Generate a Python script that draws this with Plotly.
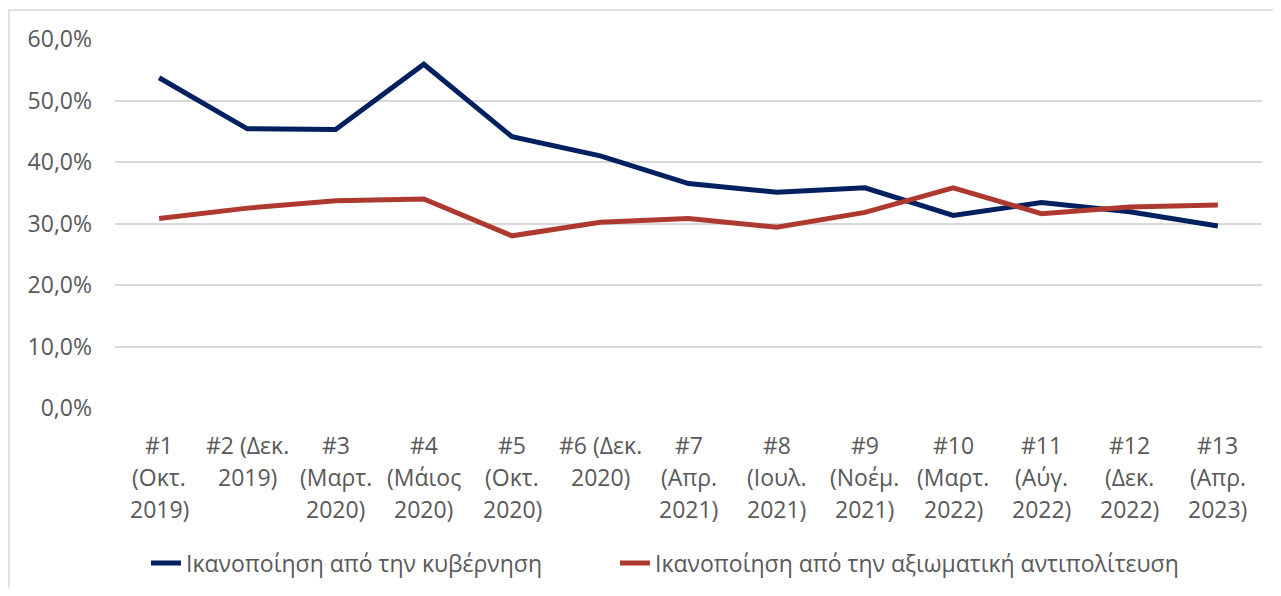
import plotly.graph_objects as go

# Data
label_line1 = ["#1", "#2 (Δεκ.", "#3", "#4", "#5", "#6 (Δεκ.", "#7", "#8", "#9", "#10", "#11", "#12", "#13"]
label_line2 = ["(Οκτ.", "2019)", "(Μαρτ.", "(Μάιος", "(Οκτ.", "2020)", "(Απρ.", "(Ιουλ.", "(Νοέμ.", "(Μαρτ.", "(Αύγ.", "(Δεκ.", "(Απρ."]
label_line3 = ["2019)", "", "2020)", "2020)", "2020)", "", "2021)", "2021)", "2021)", "2022)", "2022)", "2022)", "2023)"]
categories = [" ".join(p for p in (a, b, c) if p) for a, b, c in zip(label_line1, label_line2, label_line3)]

government = [53.7, 45.4, 45.3, 55.9, 44.1, 41.0, 36.5, 35.1, 35.8, 31.3, 33.4, 31.9, 29.6]
opposition = [30.8, 32.5, 33.7, 34.0, 28.0, 30.2, 30.8, 29.4, 31.8, 35.8, 31.6, 32.7, 33.0]
series_names = ["Ικανοποίηση από την κυβέρνηση", "Ικανοποίηση από την αξιωματική αντιπολίτευση"]
y_ticks = [0, 10, 20, 30, 40, 50, 60]

FONT = "Open Sans, Noto Sans, sans-serif"
FS = 23
GREY = "#595959"
NAVY = "#002060"
RED = "#AE3A2F"

fig = go.Figure()
fig.add_trace(go.Scatter(x=categories, y=[v / 100 for v in government], mode="lines",
                         name=series_names[0], line=dict(color=NAVY, width=5), legend="legend"))
fig.add_trace(go.Scatter(x=categories, y=[v / 100 for v in opposition], mode="lines",
                         name=series_names[1], line=dict(color=RED, width=5), legend="legend2"))

# page offset (browser body margin) and geometry in screen pixels
OFF = 8
W, H = 1281 - 2 * OFF, 596 - 2 * OFF
plot_left, plot_right, plot_top, plot_bottom = 115 - OFF, 1262 - OFF, 39 - OFF, 408 - OFF
L, R, T, B = plot_left, W - plot_right, plot_top, H - plot_bottom
pw, ph = plot_right - plot_left, plot_bottom - plot_top

def py_paper(py):
    return (plot_bottom - (py - OFF)) / ph

def px_paper(px):
    return ((px - OFF) - plot_left) / pw

annotations = []
for cat, l1, l2, l3 in zip(categories, label_line1, label_line2, label_line3):
    for txt, py in ((l1, 445), (l2, 477), (l3, 509)):
        if txt:
            annotations.append(dict(x=cat, xref="x", y=py_paper(py), yref="paper",
                                    text=txt, showarrow=False, xanchor="center", yanchor="middle",
                                    font=dict(family=FONT, size=FS, color=GREY)))

legend_common = dict(orientation="h", xanchor="left", yanchor="middle",
                     y=py_paper(563), font=dict(family=FONT, size=FS, color=GREY),
                     bgcolor="rgba(0,0,0,0)")

fig.update_layout(
    width=W, height=H,
    margin=dict(l=L, r=R, t=T, b=B, autoexpand=False),
    paper_bgcolor="white", plot_bgcolor="white",
    font=dict(family=FONT, size=FS, color=GREY),
    xaxis=dict(type="category", range=[-0.5, len(categories) - 0.5],
               showticklabels=False, showgrid=False, zeroline=False,
               showline=False, ticks=""),
    yaxis=dict(range=[0, 0.6], tickvals=[t / 100 for t in y_ticks],
               ticktext=[f"{t},0%" for t in y_ticks],
               showgrid=True, gridcolor="#D9D9D9", gridwidth=1.5,
               zeroline=False, showline=False, ticks="", ticklabelstandoff=22),
    showlegend=True,
    legend=dict(x=px_paper(146), **legend_common),
    legend2=dict(x=px_paper(615), **legend_common),
    annotations=annotations,
    shapes=[dict(type="rect", xref="paper", yref="paper",
                 x0=px_paper(9), x1=px_paper(1400),
                 y0=py_paper(800), y1=py_paper(10),
                 line=dict(color="#D9D9D9", width=1.5), fillcolor="rgba(0,0,0,0)", layer="below")],
)

fig.write_html("out.html")
